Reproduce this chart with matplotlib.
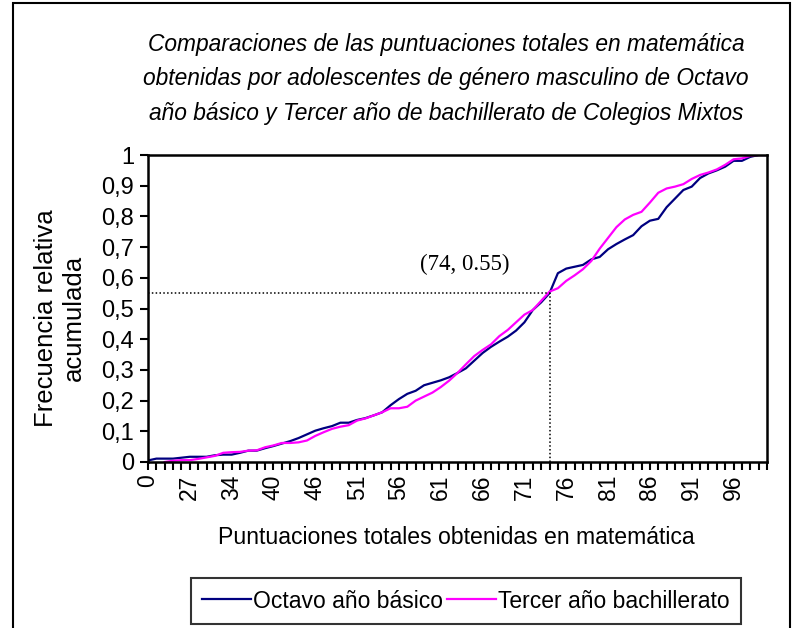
import numpy as np
import matplotlib
matplotlib.use("Agg")
import matplotlib.pyplot as plt
from matplotlib.patches import Rectangle

plt.rcParams['font.family'] = ['Liberation Sans', 'DejaVu Sans']

# Categories (score values present in the data)
scores = ([0, 21, 23, 25, 26, 27, 28, 30, 31, 33, 34, 35, 36, 37, 38, 40,
           41, 42, 44, 45, 46, 47, 48, 49, 50, 51] + list(range(52, 101)))

octavo = [0.005, 0.011, 0.011, 0.011, 0.014, 0.017, 0.017, 0.017, 0.022, 0.024,
          0.024, 0.030, 0.037, 0.037, 0.045, 0.052, 0.060, 0.068, 0.078, 0.090,
          0.102, 0.110, 0.117, 0.128, 0.128, 0.137, 0.143, 0.152, 0.162, 0.185,
          0.205, 0.222, 0.232, 0.250, 0.258, 0.266, 0.276, 0.290, 0.305, 0.330,
          0.355, 0.375, 0.392, 0.408, 0.428, 0.455, 0.495, 0.520, 0.550, 0.615,
          0.630, 0.636, 0.642, 0.660, 0.668, 0.693, 0.710, 0.725, 0.739, 0.768,
          0.786, 0.792, 0.830, 0.858, 0.886, 0.897, 0.925, 0.940, 0.950, 0.962,
          0.981, 0.981, 0.994, 1.000, 1.000]

tercero = [np.nan, np.nan, 0.000, 0.004, 0.006, 0.006, 0.010, 0.015, 0.020, 0.030,
           0.032, 0.033, 0.037, 0.038, 0.048, 0.054, 0.062, 0.062, 0.064, 0.070,
           0.085, 0.097, 0.108, 0.115, 0.120, 0.135, 0.142, 0.152, 0.162, 0.175,
           0.175, 0.180, 0.200, 0.213, 0.226, 0.244, 0.265, 0.290, 0.318, 0.345,
           0.365, 0.383, 0.410, 0.430, 0.455, 0.480, 0.495, 0.525, 0.555, 0.566,
           0.590, 0.608, 0.628, 0.655, 0.695, 0.730, 0.765, 0.790, 0.805, 0.815,
           0.845, 0.877, 0.891, 0.897, 0.905, 0.922, 0.935, 0.943, 0.953, 0.968,
           0.986, 0.989, 0.997, 1.000, 1.000]

y_ticks = [0, 0.1, 0.2, 0.3, 0.4, 0.5, 0.6, 0.7, 0.8, 0.9, 1]
y_tick_labels = ["0", "0,1", "0,2", "0,3", "0,4", "0,5", "0,6", "0,7", "0,8", "0,9", "1"]

mark_score = 74
mark_value = 0.55

title = ("Comparaciones de las puntuaciones totales en matemática\n"
         "obtenidas por adolescentes de género masculino de Octavo\n"
         "año básico y Tercer año de bachillerato de Colegios Mixtos")
x_label = "Puntuaciones totales obtenidas en matemática"
y_label = "Frecuencia relativa\nacumulada"

W, H = 794, 628
fig = plt.figure(figsize=(W / 100, H / 100), dpi=100)
ax = fig.add_axes([148 / W, 1 - 462 / H, (767 - 148) / W, (462 - 155) / H])

x = np.arange(len(scores))
ax.plot(x, octavo, color='#000080', lw=1.6, label='Octavo año básico')
ax.plot(x, tercero, color='#FF00FF', lw=1.6, label='Tercer año bachillerato')

mi = scores.index(mark_score)
ax.plot([0, mi], [mark_value, mark_value], color='black', lw=1.1, ls=(0, (1, 1.5)))
ax.plot([mi, mi], [0, mark_value], color='black', lw=1.1, ls=(0, (1, 1.5)))
ax.text(37.9, 0.645, f"({mark_score}, {mark_value})", family='Liberation Serif',
        fontsize=16.5, ha='center', va='center')

ax.set_xlim(0, len(scores) - 1)
ax.set_ylim(0, 1)
ax.set_xticks(x, minor=True)
ax.set_xticks(x[::5])
ax.set_xticklabels([str(s) for s in scores[::5]], rotation=90, fontsize=16.5)
ax.set_yticks(y_ticks)
ax.set_yticklabels(y_tick_labels, fontsize=17)
ax.tick_params(axis='x', which='both', direction='out', length=6, width=1.5, pad=3)
ax.tick_params(axis='y', which='major', direction='out', length=6, width=1.5, pad=4)
for sp in ax.spines.values():
    sp.set_linewidth(1.8)

fig.text(456 / W, 1 - 538 / H, x_label, fontsize=16.6, ha='center', va='center')
fig.text(60 / W, 1 - 318 / H, y_label, fontsize=18.5, ha='center', va='center',
         rotation=90, multialignment='center', linespacing=1.25)

fig.text(446 / W, 1 - 79 / H, title, ha='center', va='center', fontsize=16.4,
         style='italic', linespacing=1.62)

leg = fig.legend(loc='center', bbox_to_anchor=(466 / W, 1 - 601 / H), ncol=2,
                 fontsize=16.5, frameon=True, fancybox=False, handlelength=2.1,
                 handletextpad=0.1, columnspacing=0.2, borderpad=0.5,
                 borderaxespad=0)
leg.get_frame().set_edgecolor('black')
leg.get_frame().set_linewidth(1.5)

fig.patches.append(Rectangle((13 / W, -0.05), (790 - 13) / W, 1.05 - 3 / H,
                             transform=fig.transFigure, fill=False,
                             edgecolor='black', lw=1.5))

fig.savefig("out.png", dpi=100)
